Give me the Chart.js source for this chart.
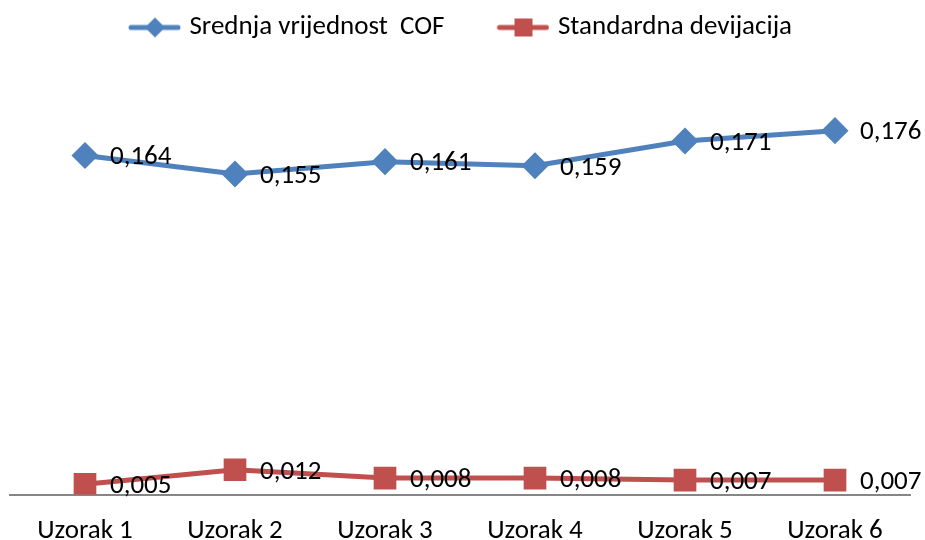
<!DOCTYPE html>
<html>
<head>
<meta charset="utf-8">
<script src="https://cdn.jsdelivr.net/npm/chart.js@4/dist/chart.umd.min.js"></script>
<style>
  html, body { margin: 0; padding: 0; background: #fff; }
  #wrap { width: 925px; height: 540px; }
</style>
</head>
<body>
<div id="wrap"><canvas id="c" width="925" height="540"></canvas></div>
<script>
const uzorci = ['Uzorak 1', 'Uzorak 2', 'Uzorak 3', 'Uzorak 4', 'Uzorak 5', 'Uzorak 6'];
const srednjaCOF = [0.164, 0.155, 0.161, 0.159, 0.171, 0.176];
const stdDev = [0.005, 0.012, 0.008, 0.008, 0.007, 0.007];

const FONT = '"Carlito", "Noto Sans", sans-serif';
const BLUE = '#4F81BD';
const RED = '#C0504D';

// legend swatch: line with marker in the middle (line sits in the right 52px)
function swatch(color, shape) {
  const cv = document.createElement('canvas');
  cv.width = 58; cv.height = 22;
  const g = cv.getContext('2d');
  g.strokeStyle = color; g.lineWidth = 5; g.lineCap = 'round';
  g.beginPath(); g.moveTo(8, 11); g.lineTo(55, 11); g.stroke();
  g.fillStyle = color;
  g.beginPath();
  if (shape === 'diamond') {
    g.moveTo(32, 1); g.lineTo(42, 11); g.lineTo(32, 21); g.lineTo(22, 11);
  } else {
    g.rect(23, 2, 18, 18);
  }
  g.closePath(); g.fill();
  return cv;
}
const swatches = [swatch(BLUE, 'diamond'), swatch(RED, 'square')];

const fmt = v => v.toFixed(3).replace('.', ',');

const valueLabels = {
  id: 'valueLabels',
  afterDatasetsDraw(chart) {
    const ctx = chart.ctx;
    ctx.save();
    ctx.font = '27px ' + FONT;
    ctx.fillStyle = '#000';
    ctx.textBaseline = 'middle';
    ctx.textAlign = 'left';
    chart.data.datasets.forEach((ds, i) => {
      chart.getDatasetMeta(i).data.forEach((pt, j) => {
        ctx.fillText(fmt(ds.data[j]), pt.x + 25, pt.y + 2);
      });
    });
    ctx.restore();
  }
};

const legendGap = {
  id: 'legendGap',
  beforeInit(chart) {
    const fit = chart.legend.fit;
    chart.legend.fit = function () {
      fit.bind(chart.legend)();
      this.height += 30;
    };
  }
};

new Chart(document.getElementById('c'), {
  type: 'line',
  data: {
    labels: uzorci,
    datasets: [
      { label: 'Srednja vrijednost  COF', data: srednjaCOF, borderColor: BLUE, backgroundColor: BLUE,
        borderWidth: 5, pointStyle: 'rectRot', pointRadius: 10, pointHoverRadius: 10, tension: 0 },
      { label: 'Standardna devijacija', data: stdDev, borderColor: RED, backgroundColor: RED,
        borderWidth: 5, pointStyle: 'rect', pointRadius: 12.5, pointHoverRadius: 12.5, tension: 0 }
    ]
  },
  options: {
    responsive: false,
    animation: false,
    layout: { autoPadding: false, padding: { left: 10, right: 15, top: -38, bottom: -19 } },
    scales: {
      x: {
        offset: true,
        grid: { display: false },
        border: { display: true, color: '#868686', width: 2 },
        ticks: { color: '#000', font: { family: FONT, size: 27 }, padding: 12 }
      },
      y: { display: false, min: 0, max: 0.2 }
    },
    plugins: {
      tooltip: { enabled: false },
      legend: {
        position: 'top',
        labels: {
          usePointStyle: true,
          pointStyleWidth: 48,
          padding: 52,
          color: '#000',
          font: { family: FONT, size: 27 },
          generateLabels(chart) {
            return chart.data.datasets.map((ds, i) => ({
              text: ds.label, pointStyle: swatches[i], datasetIndex: i,
              fillStyle: ds.borderColor, strokeStyle: ds.borderColor, lineWidth: 0, hidden: false
            }));
          }
        }
      }
    }
  },
  plugins: [valueLabels, legendGap]
});
</script>
</body>
</html>
